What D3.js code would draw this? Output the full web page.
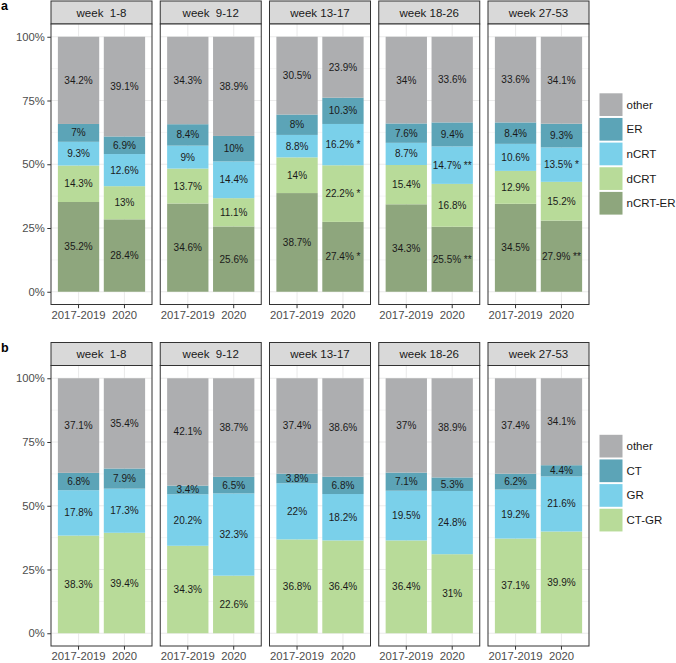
<!DOCTYPE html>
<html><head><meta charset="utf-8">
<script src="https://cdn.jsdelivr.net/npm/d3@7/dist/d3.min.js"></script>
<style>
body{margin:0;background:#fff;}
svg{font-family:"Liberation Sans",Arial,Helvetica,sans-serif;}
</style></head>
<body>
<svg id="chart" width="676" height="663"></svg>
<script>
// ---------- data ----------
const weeks = ["week  1-8", "week  9-12", "week 13-17", "week 18-26", "week 27-53"];
const years = ["2017-2019", "2020"];
const yTicks = [0, 0.25, 0.5, 0.75, 1];
const yTickLabels = ["0%", "25%", "50%", "75%", "100%"];

// panel a (values in order: week × year)
const seriesA = ["nCRT-ER", "dCRT", "nCRT", "ER", "other"]; // bottom → top
const legendA = ["other", "ER", "nCRT", "dCRT", "nCRT-ER"];
const aNcrtEr = [35.2, 28.4, 34.6, 25.6, 38.7, 27.4, 34.3, 25.5, 34.5, 27.9];
const aDcrt   = [14.3, 13.0, 13.7, 11.1, 14.0, 22.2, 15.4, 16.8, 12.9, 15.2];
const aNcrt   = [9.3, 12.6, 9.0, 14.4, 8.8, 16.2, 8.7, 14.7, 10.6, 13.5];
const aEr     = [7.0, 6.9, 8.4, 10.0, 8.0, 10.3, 7.6, 9.4, 8.4, 9.3];
const aOther  = [34.2, 39.1, 34.3, 38.9, 30.5, 23.9, 34.0, 33.6, 33.6, 34.1];
const aSigNcrtEr = ["", "", "", "", "", "*", "", "**", "", "**"];
const aSigDcrt   = ["", "", "", "", "", "*", "", "", "", ""];
const aSigNcrt   = ["", "", "", "", "", "*", "", "**", "", "*"];
const aSigEr     = ["", "", "", "", "", "", "", "", "", ""];
const aSigOther  = ["", "", "", "", "", "", "", "", "", ""];

// panel b
const seriesB = ["CT-GR", "GR", "CT", "other"];
const legendB = ["other", "CT", "GR", "CT-GR"];
const bCtGr  = [38.3, 39.4, 34.3, 22.6, 36.8, 36.4, 36.4, 31.0, 37.1, 39.9];
const bGr    = [17.8, 17.3, 20.2, 32.3, 22.0, 18.2, 19.5, 24.8, 19.2, 21.6];
const bCt    = [6.8, 7.9, 3.4, 6.5, 3.8, 6.8, 7.1, 5.3, 6.2, 4.4];
const bOther = [37.1, 35.4, 42.1, 38.7, 37.4, 38.6, 37.0, 38.9, 37.4, 34.1];

const colors = {
  "other": "#ADAEB0", "ER": "#5CA4B7", "CT": "#5CA4B7",
  "nCRT": "#7AD0EA", "GR": "#7AD0EA",
  "dCRT": "#B8DB99", "CT-GR": "#B8DB99",
  "nCRT-ER": "#8EA67D"
};

// ---------- drawing ----------
const svg = d3.select("#chart");
const fmt = v => (+v.toFixed(1)).toString() + "%";

const facetX = d3.scaleBand().domain(weeks).range([51, 589]).paddingInner(0.0755).paddingOuter(0);
const yearX = d3.scaleBand().domain(years).range([0, facetX.bandwidth()]).paddingInner(0.1).paddingOuter(0.15);

function drawPanel(g, letter, seriesNames, seriesVals, seriesSig, legendOrder) {
  const stripTop = 1, stripH = 23, panelTop = 24, panelBot = 304.5;
  const y = d3.scaleLinear().domain([-0.05, 1.05]).range([panelBot, panelTop]);

  g.append("text").attr("x", 1).attr("y", 10).attr("font-weight", "bold")
    .attr("font-size", 12.5).attr("fill", "#000").text(letter);

  // rows: one per week×year
  const rows = [];
  weeks.forEach((w, wi) => years.forEach((yr, yi) => {
    const idx = wi * 2 + yi;
    const vals = seriesVals.map(s => s[idx]);
    const tot = d3.sum(vals);
    let cum = 0;
    seriesNames.forEach((s, si) => {
      const v = vals[si] / tot;
      rows.push({week: w, year: yr, series: s, raw: vals[si], y0: cum, y1: cum + v, sig: seriesSig ? seriesSig[si][idx] : ""});
      cum += v;
    });
  }));

  weeks.forEach(w => {
    const px = facetX(w), pw = facetX.bandwidth();
    const pg = g.append("g").attr("transform", `translate(${px},0)`);
    // strip
    pg.append("rect").attr("x", 0).attr("y", stripTop).attr("width", pw).attr("height", stripH)
      .attr("fill", "#D9D9D9").attr("stroke", "#333333").attr("stroke-width", 1);
    pg.append("text").attr("x", pw / 2).attr("y", stripTop + stripH / 2 + 4)
      .attr("text-anchor", "middle").attr("font-size", 11.5).attr("fill", "#1A1A1A")
      .style("white-space", "pre").text(w);
    // background + grid
    pg.append("rect").attr("x", 0).attr("y", panelTop).attr("width", pw).attr("height", panelBot - panelTop).attr("fill", "#fff");
    const minor = [0.125, 0.375, 0.625, 0.875];
    pg.selectAll(".mn").data(minor).enter().append("line")
      .attr("x1", 0).attr("x2", pw).attr("y1", d => y(d)).attr("y2", d => y(d))
      .attr("stroke", "#EBEBEB").attr("stroke-width", 0.5);
    pg.selectAll(".mj").data(yTicks).enter().append("line")
      .attr("x1", 0).attr("x2", pw).attr("y1", d => y(d)).attr("y2", d => y(d))
      .attr("stroke", "#EBEBEB").attr("stroke-width", 1.1);
    pg.selectAll(".vx").data(years).enter().append("line")
      .attr("x1", d => yearX(d) + yearX.bandwidth() / 2).attr("x2", d => yearX(d) + yearX.bandwidth() / 2)
      .attr("y1", panelTop).attr("y2", panelBot)
      .attr("stroke", "#EBEBEB").attr("stroke-width", 1.1);
    // bars
    const dat = rows.filter(r => r.week === w);
    pg.selectAll(".bar").data(dat).enter().append("rect")
      .attr("x", d => yearX(d.year)).attr("width", yearX.bandwidth())
      .attr("y", d => y(d.y1)).attr("height", d => y(d.y0) - y(d.y1))
      .attr("fill", d => colors[d.series]);
    pg.selectAll(".lab").data(dat).enter().append("text")
      .attr("x", d => yearX(d.year) + yearX.bandwidth() / 2)
      .attr("y", d => y((d.y0 + d.y1) / 2) + 3.5)
      .attr("text-anchor", "middle").attr("font-size", 10).attr("fill", "#1A1A1A")
      .style("white-space", "pre")
      .text(d => fmt(d.raw) + (d.sig ? " " + d.sig : ""));
    // border
    pg.append("rect").attr("x", 0).attr("y", panelTop).attr("width", pw).attr("height", panelBot - panelTop)
      .attr("fill", "none").attr("stroke", "#333333").attr("stroke-width", 1);
    // x axis
    const xa = d3.axisBottom(yearX).tickSize(3.7).tickPadding(2.5);
    const ax = pg.append("g").attr("transform", `translate(0,${panelBot})`).call(xa);
    ax.select(".domain").remove();
    ax.selectAll("line").attr("stroke", "#333333");
    ax.selectAll("text").attr("font-size", 11.3).attr("fill", "#4D4D4D").attr("font-family", null);
  });

  // y axis
  const ya = d3.axisLeft(y).tickValues(yTicks).tickFormat((d, i) => yTickLabels[i]).tickSize(3.7).tickPadding(2.5);
  const ayg = g.append("g").attr("transform", `translate(${facetX(weeks[0])},0)`).call(ya);
  ayg.select(".domain").remove();
  ayg.selectAll("line").attr("stroke", "#333333");
  ayg.selectAll("text").attr("font-size", 11.3).attr("fill", "#4D4D4D").attr("font-family", null);

  // legend
  const lg = g.append("g").attr("transform", "translate(599.5,93.3)");
  legendOrder.forEach((s, i) => {
    lg.append("rect").attr("x", 0).attr("y", i * 24.65).attr("width", 23).attr("height", 22.7).attr("fill", colors[s]);
    lg.append("text").attr("x", 27).attr("y", i * 24.65 + 11.35 + 4).attr("font-size", 11.5).attr("fill", "#1A1A1A").text(s);
  });
}

drawPanel(svg.append("g"), "a", seriesA, [aNcrtEr, aDcrt, aNcrt, aEr, aOther],
  [aSigNcrtEr, aSigDcrt, aSigNcrt, aSigEr, aSigOther], legendA);
drawPanel(svg.append("g").attr("transform", "translate(0,341.5)"), "b", seriesB, [bCtGr, bGr, bCt, bOther], null, legendB);
</script>
</body></html>
